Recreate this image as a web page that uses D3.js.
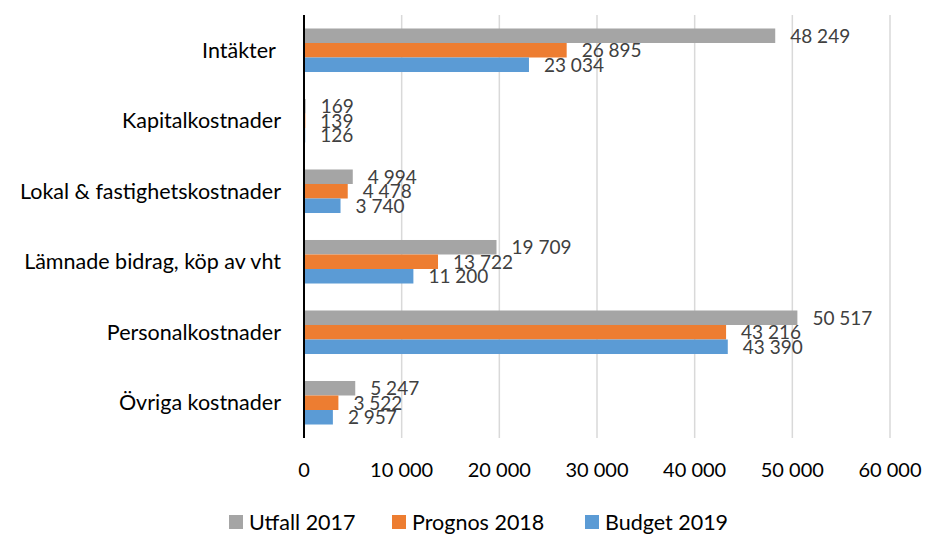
<!DOCTYPE html>
<html>
<head>
<meta charset="utf-8">
<script src="https://cdn.jsdelivr.net/npm/d3@7"></script>
<style>
  body { margin: 0; background: #fff; }
  text { font-family: Lato, "Open Sans", sans-serif; }
</style>
</head>
<body>
<div id="chart"></div>
<script>
//chart data
var categories = ["Intäkter ", "Kapitalkostnader", "Lokal & fastighetskostnader",
    "Lämnade bidrag, köp av vht", "Personalkostnader", "Övriga kostnader"];
var seriesNames = ["Utfall 2017", "Prognos 2018", "Budget 2019"];
var seriesColors = ["#A5A5A5", "#ED7D31", "#5B9BD5"];
var utfall2017 = [48249, 169, 4994, 19709, 50517, 5247];
var prognos2018 = [26895, 139, 4478, 13722, 43216, 3522];
var budget2019 = [23034, 126, 3740, 11200, 43390, 2957];
var xTicks = [0, 10000, 20000, 30000, 40000, 50000, 60000];

var seriesValues = [utfall2017, prognos2018, budget2019];

//svg size
var svgWidth = 925;
var svgHeight = 534;
var margin = { top: 15, right: 35, bottom: 96, left: 304 };
var width = svgWidth - margin.left - margin.right;
var height = svgHeight - margin.top - margin.bottom;

var svg = d3.select("#chart").append("svg")
    .attr("width", svgWidth)
    .attr("height", svgHeight);

var chartGroup = svg.append("g")
    .attr("transform", `translate(${margin.left}, ${margin.top})`);

//scales
var xScale = d3.scaleLinear().domain([0, 60000]).range([0, 586]);
var yScale = d3.scaleBand().domain(categories).range([0, height]).padding(0);
var innerScale = d3.scaleBand().domain(seriesNames)
    .range([0, yScale.bandwidth()]).paddingInner(0).paddingOuter(0.93);

//number format with space as thousands separator
var fmt = function(v) { return d3.format(",")(v).replace(/,/g, " "); };

//gridlines
chartGroup.selectAll(".grid")
    .data(xTicks.slice(1))
    .enter()
    .append("line")
    .attr("x1", d => xScale(d))
    .attr("x2", d => xScale(d))
    .attr("y1", 0)
    .attr("y2", height)
    .attr("stroke", "#d9d9d9")
    .attr("stroke-width", 1.5);

//bars
var rows = [];
categories.forEach(function(c, i) {
    seriesNames.forEach(function(s, j) {
        rows.push({ cat: c, series: s, value: seriesValues[j][i], color: seriesColors[j] });
    });
});

chartGroup.selectAll(".bar")
    .data(rows)
    .enter()
    .append("rect")
    .attr("x", 0)
    .attr("y", d => yScale(d.cat) + innerScale(d.series))
    .attr("width", d => xScale(d.value))
    .attr("height", innerScale.bandwidth())
    .attr("fill", d => d.color);

//data labels
chartGroup.selectAll(".label")
    .data(rows)
    .enter()
    .append("text")
    .attr("x", d => xScale(d.value) + 15)
    .attr("y", d => yScale(d.cat) + innerScale(d.series) + innerScale.bandwidth() / 2)
    .attr("dy", "0.36em")
    .attr("font-size", "19px")
    .attr("fill", "#404040")
    .text(d => fmt(d.value));

//y axis line
chartGroup.append("line")
    .attr("x1", 0).attr("x2", 0)
    .attr("y1", 0).attr("y2", height)
    .attr("stroke", "#000")
    .attr("stroke-width", 2);

//category labels
chartGroup.selectAll(".cat")
    .data(categories)
    .enter()
    .append("text")
    .attr("x", -23)
    .attr("y", d => yScale(d) + yScale.bandwidth() / 2)
    .attr("dy", "0.36em")
    .attr("text-anchor", "end")
    .attr("font-size", "21.5px")
    .attr("fill", "#000")
    .style("white-space", "pre")
    .text(d => d);

//x tick labels
chartGroup.selectAll(".tick-label")
    .data(xTicks)
    .enter()
    .append("text")
    .attr("x", d => xScale(d))
    .attr("y", height + 32)
    .attr("dy", "0.36em")
    .attr("text-anchor", "middle")
    .attr("font-size", "20px")
    .attr("fill", "#000")
    .text(d => fmt(d));

//legend
var legendX = [229, 392, 585];
var legend = svg.selectAll(".legend")
    .data(seriesNames)
    .enter()
    .append("g")
    .attr("transform", (d, i) => `translate(${legendX[i]}, 522)`);

legend.append("rect")
    .attr("x", 0)
    .attr("y", -7)
    .attr("width", 14)
    .attr("height", 14)
    .attr("fill", (d, i) => seriesColors[i]);

legend.append("text")
    .attr("x", 20)
    .attr("y", 0)
    .attr("dy", "0.36em")
    .attr("font-size", "21.5px")
    .attr("fill", "#000")
    .text(d => d);
</script>
</body>
</html>
